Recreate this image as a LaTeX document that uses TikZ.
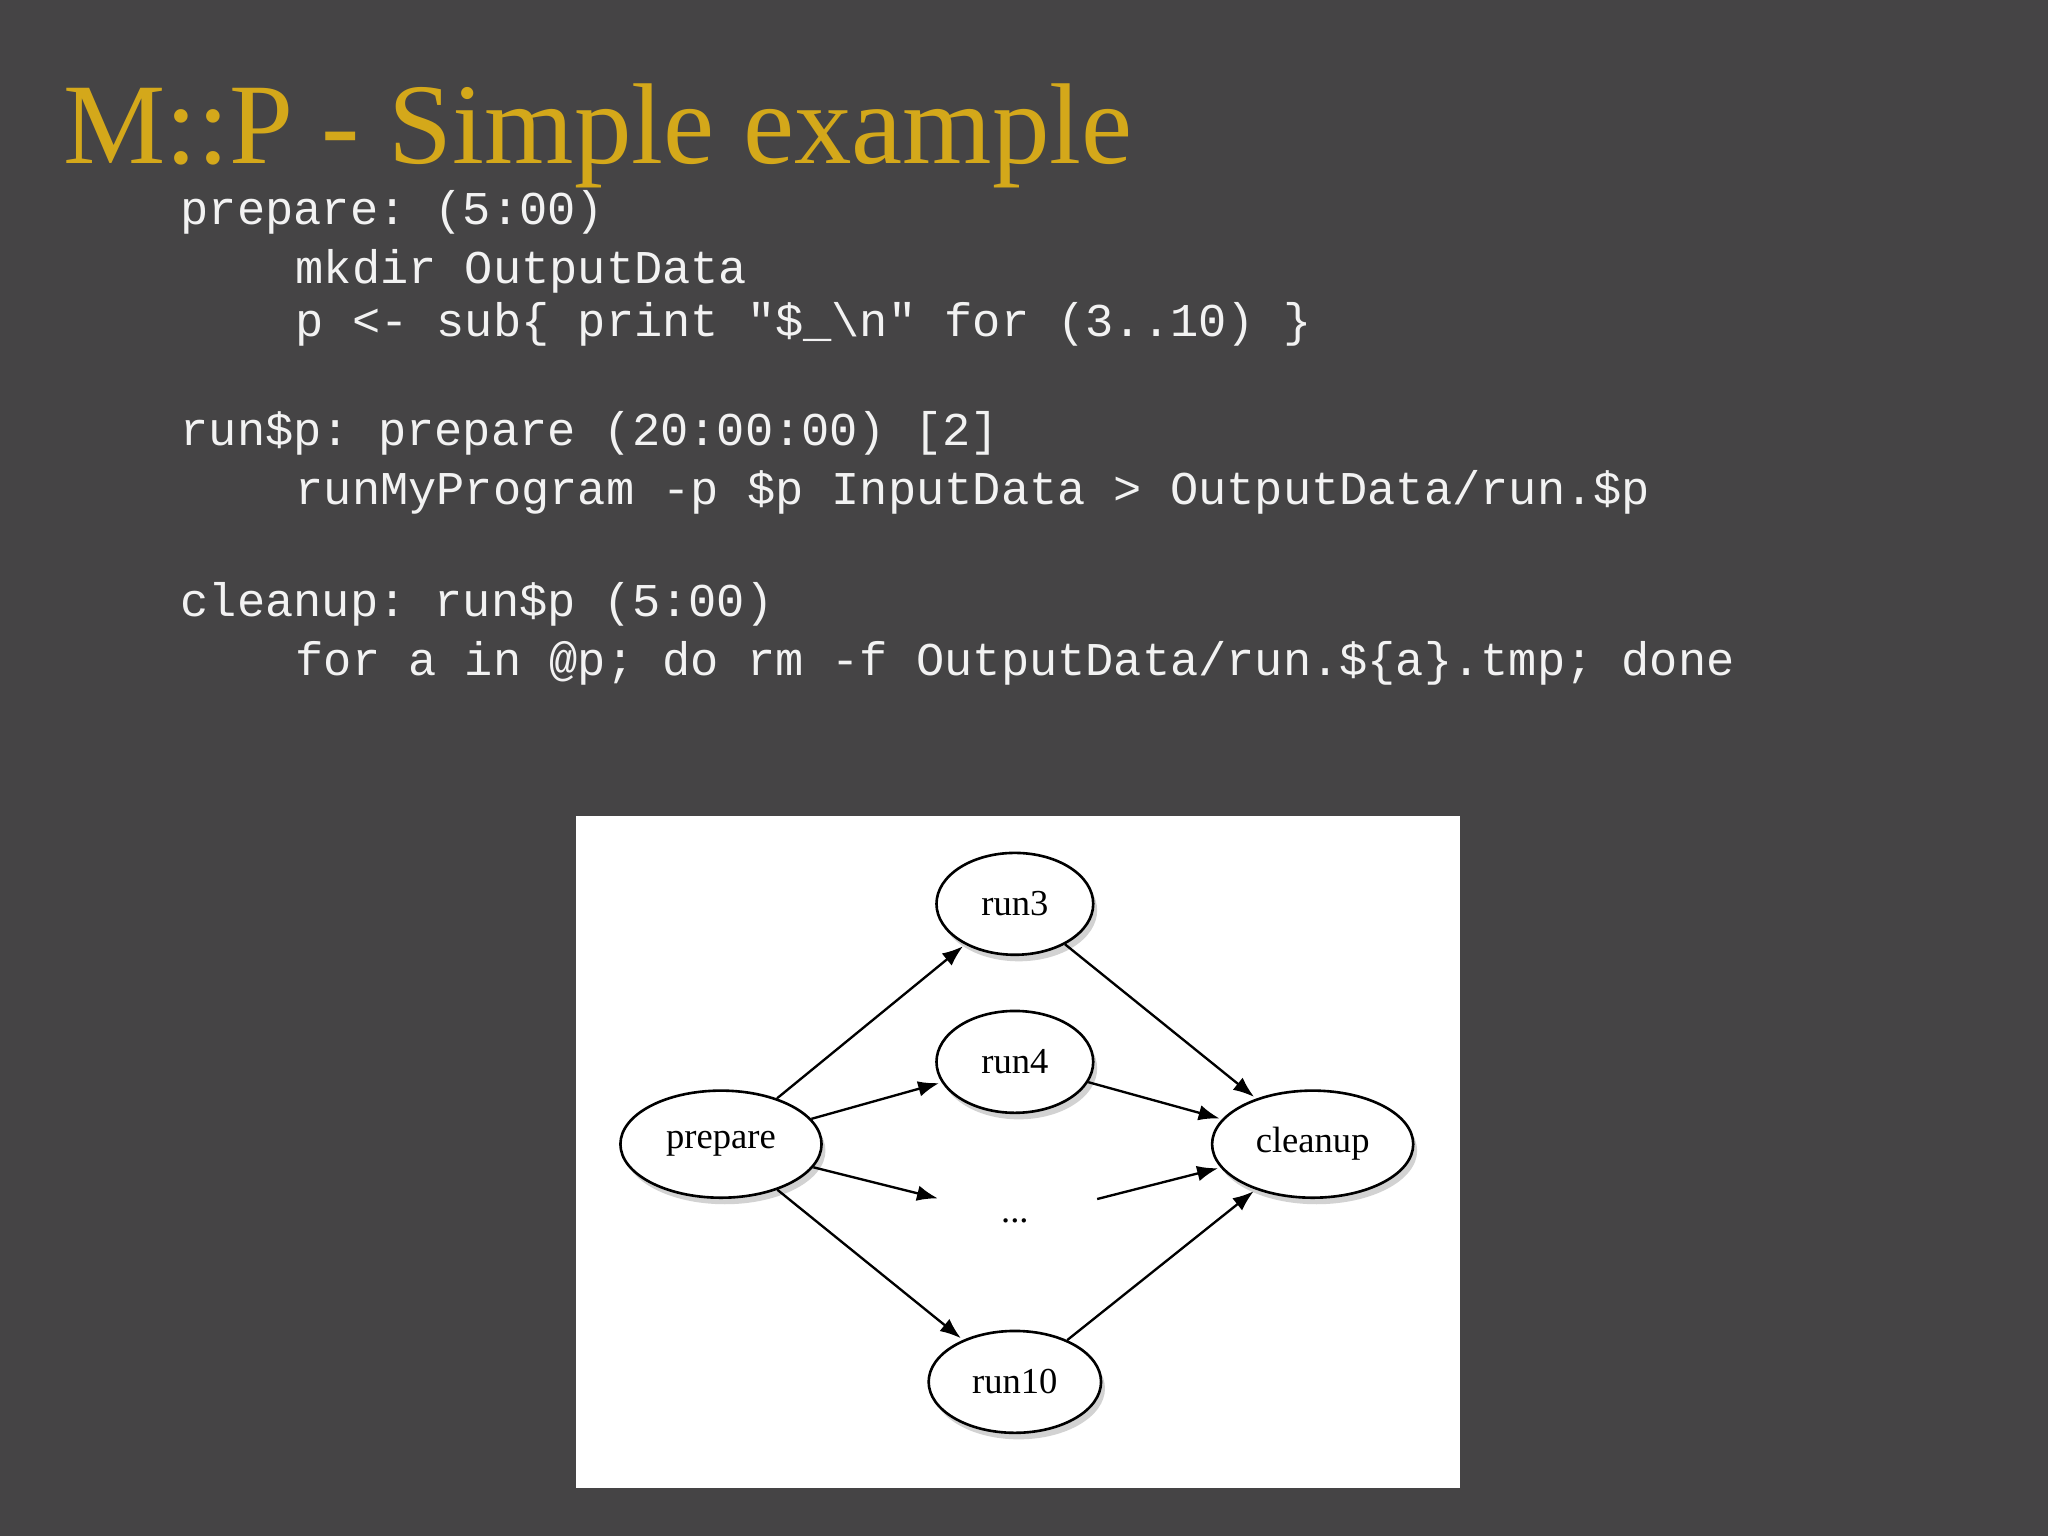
\documentclass[tikz,border=0pt]{standalone}
\usepackage{fontspec}
\setmainfont{Liberation Serif}
\setmonofont{Liberation Mono}
\usetikzlibrary{shapes.geometric,shadows,arrows.meta}
\definecolor{bg}{HTML}{454445}
\definecolor{gold}{HTML}{D4A81A}
\definecolor{codec}{HTML}{F2F2F2}
\tikzset{
 code/.style={anchor=base west,inner sep=0,text=codec,font=\fontsize{18}{20}\selectfont\ttfamily},
 job/.style={ellipse,draw=black,line width=1pt,fill=white,font=\fontsize{14}{16}\selectfont,drop shadow={shadow xshift=1.5pt,shadow yshift=-2.5pt,opacity=0.35}},
 dep/.style={-{Latex[length=8pt,width=6pt]},line width=0.9pt,shorten >=1pt}
}
\begin{document}
\begin{tikzpicture}[x=0.5pt,y=-0.5pt]
\fill[bg] (0,0) rectangle (1568,1176);
\useasboundingbox (0,0) rectangle (1568,1176);
\node[anchor=base west,inner sep=0,text=gold,font=\fontsize{44}{48}\selectfont] (title) at (48,125) {M::P - Simple example};
\node[code] (l1) at (138,172) {prepare: (5:00)};
\node[code] (l2) at (226,217) {mkdir OutputData};
\node[code] (l3) at (226,258) {p <- sub\{ print "\$\_\textbackslash n" for (3..10) \}};
\node[code] (l4) at (138,341) {run\$p: prepare (20:00:00) [2]};
\node[code] (l5) at (226,386) {runMyProgram -p \$p InputData > OutputData/run.\$p};
\node[code] (l6) at (138,472) {cleanup: run\$p (5:00)};
\node[code] (l7) at (226,517) {for a in @p; do rm -f OutputData/run.\$\{a\}.tmp; done};
\fill[white] (441,625) rectangle (1118,1139);
\node[job,minimum width=60pt,minimum height=39pt] (run3) at (777,692) {run3};
\node[job,minimum width=60pt,minimum height=39pt] (run4) at (777,813) {run4};
\node[job,minimum width=77pt,minimum height=41pt] (prep) at (552,876) {prepare};
\node[job,minimum width=77pt,minimum height=41pt] (clean) at (1005,876) {cleanup};
\node[job,minimum width=66pt,minimum height=39pt] (run10) at (777,1058) {run10};
\node[font=\fontsize{14}{16}\selectfont] (dots) at (777,935) {...};
\coordinate (dl) at (720,918);
\coordinate (dr) at (840,918);
\draw[dep] (prep) -- (run3);
\draw[dep] (prep) -- (run4);
\draw[dep] (prep) -- (dl);
\draw[dep] (prep) -- (run10);
\draw[dep] (run3) -- (clean);
\draw[dep] (run4) -- (clean);
\draw[dep] (dr) -- (clean);
\draw[dep] (run10) -- (clean);
\end{tikzpicture}
\end{document}
